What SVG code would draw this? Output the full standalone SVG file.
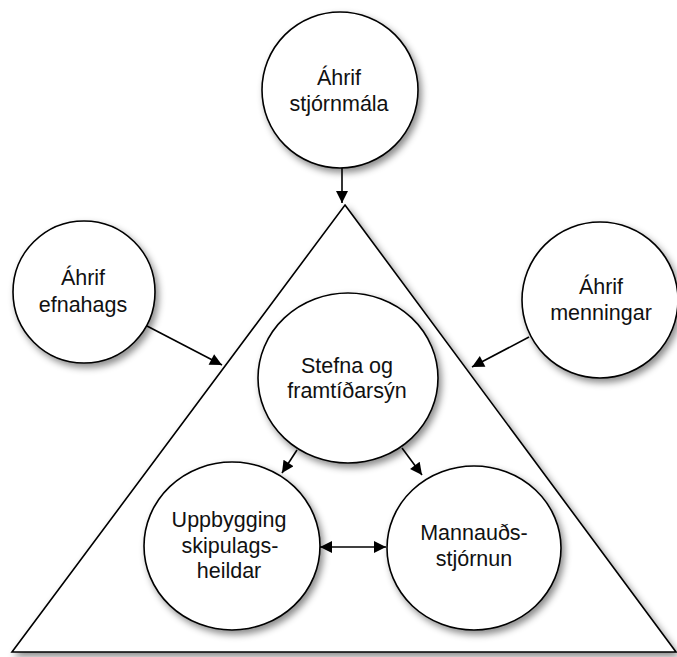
<svg xmlns="http://www.w3.org/2000/svg" width="677" height="657" viewBox="0 0 677 657">
<style>
.shape{fill:#fff;stroke:#000;stroke-width:1.6;filter:url(#sh)}
.lbl{font-family:"Liberation Sans",Arial,sans-serif;font-size:21.5px;fill:#111;text-anchor:middle}
.conn{stroke:#000;stroke-width:1.6;fill:none}
</style>
<defs>
<filter id="sh" x="-20%" y="-20%" width="150%" height="150%">
<feDropShadow dx="3" dy="4" stdDeviation="3.5" flood-color="#000" flood-opacity="0.45"/>
</filter>
<marker id="ah" viewBox="0 0 10 10" refX="10" refY="5" markerWidth="10" markerHeight="10" markerUnits="userSpaceOnUse" orient="auto-start-reverse">
<path d="M0,0 L10,5 L0,10 Z" fill="#000"/>
</marker>
<marker id="ahb" viewBox="0 0 10 10" refX="10" refY="5" markerWidth="14" markerHeight="12" markerUnits="userSpaceOnUse" orient="auto-start-reverse">
<path d="M0,0 L10,5 L0,10 Z" fill="#000"/>
</marker>
</defs>
<g id="triangle"><path class="shape" d="M345,205 L676,652 L12,652 Z"/></g>
<g id="n-stjornmala"><circle class="shape" cx="340" cy="90" r="78"/><text class="lbl" x="339" y="85">Áhrif</text><text class="lbl" x="339" y="111">stjórnmála</text></g>
<g id="n-efnahags"><circle class="shape" cx="84" cy="292" r="71"/><text class="lbl" x="83" y="285">Áhrif</text><text class="lbl" x="83" y="312">efnahags</text></g>
<g id="n-menningar"><circle class="shape" cx="600" cy="300" r="78"/><text class="lbl" x="601" y="294">Áhrif</text><text class="lbl" x="601" y="320">menningar</text></g>
<g id="n-stefna"><ellipse class="shape" cx="348" cy="378" rx="90" ry="85"/><text class="lbl" x="347" y="373">Stefna og</text><text class="lbl" x="347" y="398">framtíðarsýn</text></g>
<g id="n-uppbygging"><ellipse class="shape" cx="232" cy="546" rx="88" ry="84"/><text class="lbl" x="229" y="527">Uppbygging</text><text class="lbl" x="230" y="553">skipulags-</text><text class="lbl" x="229" y="578">heildar</text></g>
<g id="n-mannauds"><ellipse class="shape" cx="474" cy="548" rx="87" ry="82"/><text class="lbl" x="474" y="540">Mannauðs-</text><text class="lbl" x="474" y="566">stjórnun</text></g>
<g id="connectors">
<line class="conn" x1="342" y1="168" x2="342" y2="203" marker-end="url(#ahb)"/>
<line class="conn" x1="147" y1="326" x2="222" y2="365" marker-end="url(#ahb)"/>
<line class="conn" x1="529" y1="337" x2="472" y2="367" marker-end="url(#ahb)"/>
<line class="conn" x1="297" y1="450" x2="282" y2="473" marker-end="url(#ahb)"/>
<line class="conn" x1="402" y1="448" x2="422" y2="475" marker-end="url(#ahb)"/>
<line class="conn" x1="320" y1="547" x2="386" y2="547" marker-start="url(#ahb)" marker-end="url(#ahb)"/>
</g>
</svg>
